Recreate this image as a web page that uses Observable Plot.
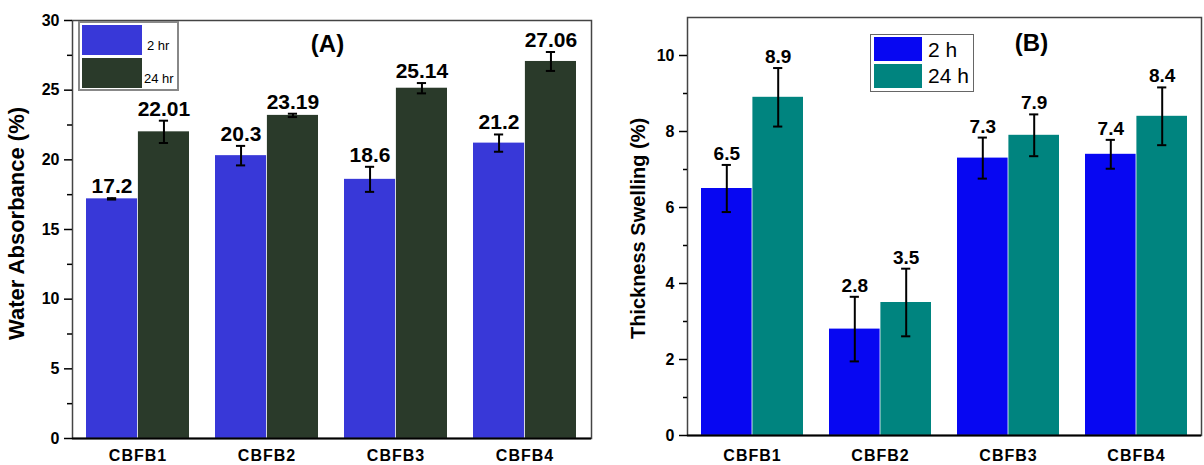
<!DOCTYPE html>
<html>
<head>
<meta charset="utf-8">
<script src="https://cdn.jsdelivr.net/npm/d3@7"></script>
<script src="https://cdn.jsdelivr.net/npm/@observablehq/plot@0.6"></script>
<style>
  body { margin: 0; background: #fff; }
  #wrap { position: relative; width: 1204px; height: 465px; overflow: hidden; font-family: "Liberation Sans", Arial, sans-serif; }
  .pane { position: absolute; top: 0; }
  .legend { position: absolute; box-sizing: border-box; background: #fff; }
  .sw { position: absolute; }
  .lt { position: absolute; white-space: nowrap; color: #000; line-height: 1; }
  g[aria-label="x-axis tick label"] text { letter-spacing: 1px; }
</style>
</head>
<body>
<div id="wrap">
  <div class="pane" id="pa" style="left:0"></div>
  <div class="pane" id="pb" style="left:600px"></div>
</div>
<script>
const categories = ["CBFB1", "CBFB2", "CBFB3", "CBFB4"];

// Panel A: water absorbance (%)
const absorb2h = [17.2, 20.3, 18.6, 21.2];
const absorb2hErr = [0.05, 0.7, 0.9, 0.62];
const absorb24h = [22.01, 23.19, 25.14, 27.06];
const absorb24hErr = [0.8, 0.12, 0.37, 0.68];
const absorbTicks = [0, 5, 10, 15, 20, 25, 30];
const absorbMinor = [2.5, 7.5, 12.5, 17.5, 22.5, 27.5];
const absorbLegend = ["2 hr", "24 hr"];

// Panel B: thickness swelling (%)
const swell2h = [6.5, 2.8, 7.3, 7.4];
const swell2hErr = [0.62, 0.85, 0.54, 0.38];
const swell24h = [8.9, 3.5, 7.9, 8.4];
const swell24hErr = [0.77, 0.89, 0.55, 0.76];
const swellTicks = [0, 2, 4, 6, 8, 10];
const swellMinor = [1, 3, 5, 7, 9];
const swellLegend = ["2 h", "24 h"];

const FONT = "'Liberation Sans', Arial, sans-serif";

function panel(o) {
  const n = categories.length;
  const pi = 0.2, po = 0.1;
  const step = (o.width - o.ml - o.mr) / (n - pi + 2 * po);
  const bw = step * (1 - pi);
  const half = bw / 2, q = bw / 4;
  const rowsA = categories.map((c, i) => ({c, v: o.a[i], e: o.aErr[i], label: o.aLabels[i]}));
  const rowsB = categories.map((c, i) => ({c, v: o.b[i], e: o.bErr[i], label: o.bLabels[i]}));
  const err = (rows, off) => [
    Plot.ruleX(rows, {x: "c", y1: d => d.v - d.e, y2: d => d.v + d.e, dx: off, stroke: "#000", strokeWidth: 2}),
    Plot.tickY(rows, {x: "c", y: d => d.v + d.e, insetLeft: off < 0 ? q - o.cap : 3 * q - o.cap, insetRight: off < 0 ? 3 * q - o.cap : q - o.cap, stroke: "#000", strokeWidth: 2}),
    Plot.tickY(rows, {x: "c", y: d => d.v - d.e, insetLeft: off < 0 ? q - o.cap : 3 * q - o.cap, insetRight: off < 0 ? 3 * q - o.cap : q - o.cap, stroke: "#000", strokeWidth: 2}),
    Plot.text(rows, {x: "c", y: d => d.v + d.e, text: "label", dx: off, dy: -5, lineAnchor: "bottom", textAnchor: "middle", fontSize: o.valueSize, fontWeight: "bold", fill: "#000"})
  ];
  return Plot.plot({
    width: o.width,
    height: 465,
    marginLeft: o.ml,
    marginRight: o.mr,
    marginTop: o.mt,
    marginBottom: o.mb,
    style: {fontFamily: FONT, fontSize: "16px", color: "#000", background: "transparent"},
    x: {type: "band", domain: categories, paddingInner: pi, paddingOuter: po, axis: null},
    y: {domain: o.yDomain, axis: null},
    marks: [
      Plot.barY(rowsA, {x: "c", y: "v", fill: o.colA, insetRight: half, insetLeft: 0}),
      Plot.barY(rowsB, {x: "c", y: "v", fill: o.colB, insetLeft: half, insetRight: 0}),
      ...err(rowsA, -q),
      ...err(rowsB, q),
      Plot.frame({stroke: "#444", strokeWidth: 1.5}),
      Plot.ruleY([0], {stroke: "#000", strokeWidth: 2}),
      Plot.axisY(o.ticks, {tickSize: o.tickSize, tickPadding: o.tickPad, fontSize: o.tickFont, fontWeight: "bold", strokeWidth: 1.5, label: null, line: true}),
      Plot.axisY(o.minor, {tickSize: o.minorSize, text: null, strokeWidth: 1.5, label: null}),
      Plot.axisX({tickSize: 0, tickPadding: o.xPad, fontSize: 16, fontWeight: "bold", label: null}),
      Plot.text([o.ylabel], {frameAnchor: "left", rotate: -90, dx: o.ylabelDx, dy: o.ylabelDy, textAnchor: "middle", lineAnchor: "middle", fontSize: o.ylabelSize, fontWeight: "bold", fill: "#000"}),
      Plot.text([o.title], {frameAnchor: "top-left", dx: o.titleDx, dy: o.titleDy, textAnchor: "middle", lineAnchor: "middle", fontSize: 24, fontWeight: "bold", fill: "#000"})
    ]
  });
}

const colA2 = "#3838d8", colA24 = "#2a3a2a";
const colB2 = "#0707f2", colB24 = "#00847f";

document.getElementById("pa").appendChild(panel({
  width: 600, ml: 72, mr: 9, mt: 20, mb: 27,
  yDomain: [0, 30], ticks: absorbTicks, minor: absorbMinor,
  a: absorb2h, aErr: absorb2hErr, aLabels: absorb2h.map(String),
  b: absorb24h, bErr: absorb24hErr, bLabels: absorb24h.map(String),
  colA: colA2, colB: colA24,
  tickSize: 8, minorSize: 5, tickPad: 5, tickFont: 16, xPad: 11.5, cap: 5,
  valueSize: 21,
  ylabel: "Water Absorbance (%)", ylabelSize: 22, ylabelDx: -56, ylabelDy: -6,
  title: "(A)", titleDx: 255, titleDy: 24
}));

document.getElementById("pb").appendChild(panel({
  width: 604, ml: 87, mr: 3, mt: 17, mb: 30,
  yDomain: [0, 11], ticks: swellTicks, minor: swellMinor,
  a: swell2h, aErr: swell2hErr, aLabels: swell2h.map(String),
  b: swell24h, bErr: swell24hErr, bLabels: swell24h.map(String),
  colA: colB2, colB: colB24,
  tickSize: 8, minorSize: 4, tickPad: 5, tickFont: 16, xPad: 14.5, cap: 5,
  valueSize: 19,
  ylabel: "Thickness Swelling (%)", ylabelSize: 20, ylabelDx: -49, ylabelDy: 2,
  title: "(B)", titleDx: 344, titleDy: 26
}));

// Legends (HTML overlays)
function legend(parent, box, items) {
  const lg = document.createElement("div");
  lg.className = "legend";
  Object.assign(lg.style, {left: box.x + "px", top: box.y + "px", width: box.w + "px", height: box.h + "px", border: box.border});
  items.forEach(it => {
    const s = document.createElement("div");
    s.className = "sw";
    Object.assign(s.style, {left: it.sx + "px", top: it.sy + "px", width: it.sw + "px", height: it.sh + "px", background: it.color});
    lg.appendChild(s);
    const t = document.createElement("div");
    t.className = "lt";
    t.textContent = it.label;
    Object.assign(t.style, {left: it.tx + "px", top: it.ty + "px", fontSize: it.fs + "px"});
    lg.appendChild(t);
  });
  parent.appendChild(lg);
}
const wrap = document.getElementById("wrap");
legend(wrap, {x: 78, y: 21, w: 101, h: 70, border: "2px solid #888"}, [
  {label: absorbLegend[0], color: colA2, sx: 2, sy: 2, sw: 60, sh: 30, tx: 67, ty: 16, fs: 13},
  {label: absorbLegend[1], color: colA24, sx: 2, sy: 35, sw: 60, sh: 30, tx: 64, ty: 49, fs: 13}
]);
legend(wrap, {x: 870, y: 34, w: 104, h: 58, border: "1.5px solid #666"}, [
  {label: swellLegend[0], color: colB2, sx: 3, sy: 2, sw: 48, sh: 24, tx: 57, ty: 4, fs: 21},
  {label: swellLegend[1], color: colB24, sx: 3, sy: 29, sw: 48, sh: 24, tx: 57, ty: 30, fs: 21}
]);
</script>
</body>
</html>
